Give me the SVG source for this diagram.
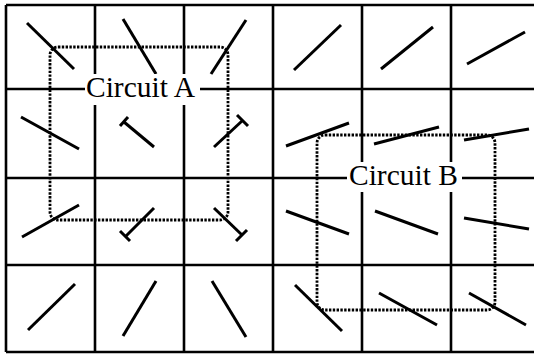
<svg xmlns="http://www.w3.org/2000/svg" width="534" height="354" viewBox="0 0 534 354">
<style>
.grid{stroke:#000;stroke-width:2.6;fill:none}
.seg{stroke:#000;stroke-width:3;stroke-linecap:butt;fill:none}
.circ{stroke:#000;stroke-width:2.8;stroke-dasharray:2.4 1.4;fill:none}
.lbl{font-family:"Liberation Serif","Times New Roman",serif;font-size:29.5px;fill:#000}
.mask{fill:#fff;stroke:none}
</style>
<rect width="534" height="354" fill="#fff"/>
<g id="grid" class="grid">
<line x1="6" y1="5" x2="534" y2="5"/>
<line x1="6" y1="89" x2="534" y2="89"/>
<line x1="6" y1="178" x2="534" y2="178"/>
<line x1="6" y1="265" x2="534" y2="265"/>
<line x1="6" y1="352" x2="534" y2="352"/>
<line x1="6" y1="5" x2="6" y2="352"/>
<line x1="95" y1="5" x2="95" y2="352"/>
<line x1="184" y1="5" x2="184" y2="352"/>
<line x1="273" y1="5" x2="273" y2="352"/>
<line x1="362" y1="5" x2="362" y2="352"/>
<line x1="451" y1="5" x2="451" y2="352"/>
</g>
<g id="segments" class="seg">
<line x1="27" y1="23" x2="74" y2="69"/>
<line x1="123" y1="19" x2="156" y2="74"/>
<line x1="246" y1="20" x2="211" y2="74"/>
<line x1="294" y1="70" x2="341" y2="25"/>
<line x1="381" y1="69" x2="433" y2="27"/>
<line x1="467" y1="64" x2="525" y2="32"/>
<line x1="21" y1="117" x2="79" y2="149"/>
<line x1="124" y1="122" x2="154" y2="147"/>
<line x1="120" y1="126" x2="128" y2="117"/>
<line x1="214" y1="147" x2="242" y2="121"/>
<line x1="237" y1="115" x2="248" y2="126"/>
<line x1="286" y1="146" x2="349" y2="123"/>
<line x1="374" y1="144" x2="439" y2="127"/>
<line x1="464" y1="140" x2="529" y2="129"/>
<line x1="22" y1="237" x2="79" y2="205"/>
<line x1="154" y1="208" x2="126" y2="236"/>
<line x1="120" y1="231" x2="130" y2="241"/>
<line x1="214" y1="208" x2="242" y2="235"/>
<line x1="236" y1="241" x2="247" y2="230"/>
<line x1="286" y1="211" x2="349" y2="234"/>
<line x1="375" y1="211" x2="438" y2="234"/>
<line x1="464" y1="218" x2="529" y2="229"/>
<line x1="28" y1="330" x2="75" y2="284"/>
<line x1="123" y1="336" x2="156" y2="281"/>
<line x1="212" y1="281" x2="246" y2="337"/>
<line x1="295" y1="285" x2="342" y2="331"/>
<line x1="379" y1="293" x2="437" y2="325"/>
<line x1="469" y1="293" x2="526" y2="325"/>
</g>
<g id="circuitA">
<rect class="circ" x="50" y="47" width="178" height="173" rx="8"/>
<rect class="mask" x="85" y="74" width="115" height="31"/>
<text class="lbl" x="86" y="97">Circuit A</text>
</g>
<g id="circuitB">
<rect class="circ" x="317" y="135" width="178" height="175" rx="8"/>
<rect class="mask" x="347" y="162" width="115" height="30"/>
<text class="lbl" x="349" y="185">Circuit B</text>
</g>
</svg>
